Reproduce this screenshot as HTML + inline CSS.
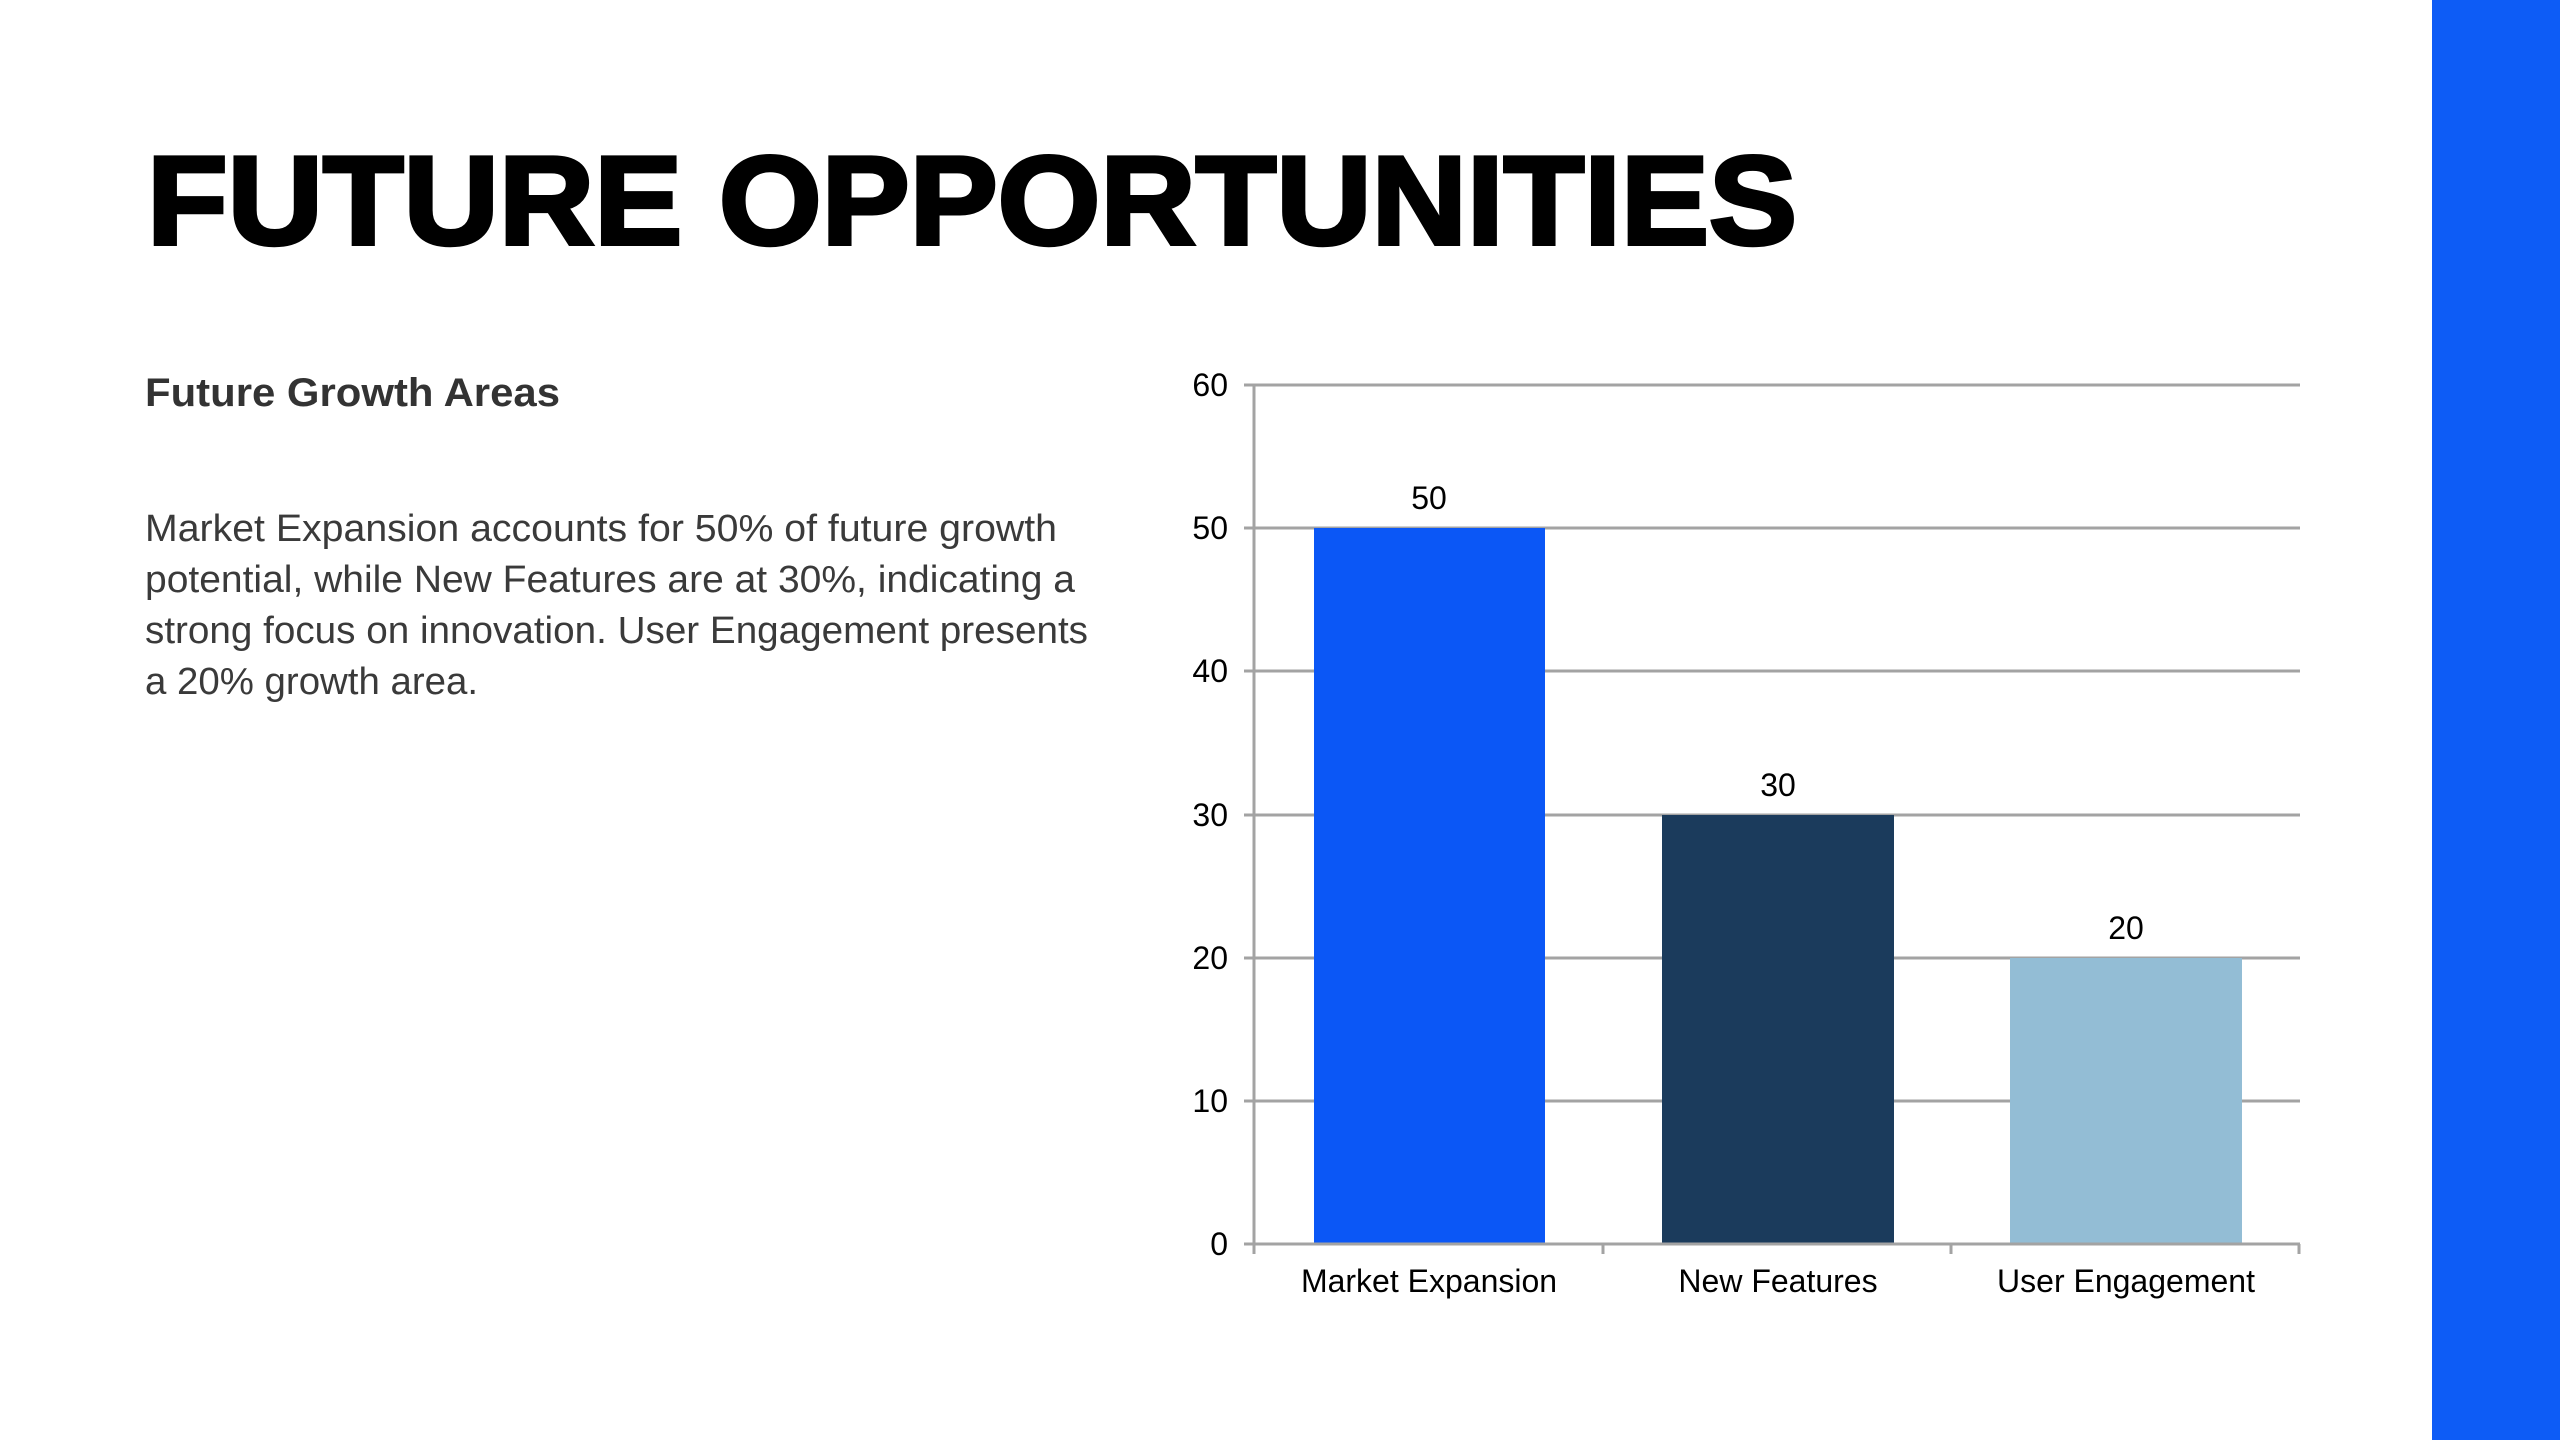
<!DOCTYPE html>
<html><head><meta charset="utf-8"><style>
html,body{margin:0;padding:0;background:#fff;}
svg{display:block;}
</style></head><body>
<svg width="2560" height="1440" viewBox="0 0 2560 1440" xmlns="http://www.w3.org/2000/svg">
<rect x="0" y="0" width="2560" height="1440" fill="#fff"/>
<rect x="2432" y="0" width="128" height="1440" fill="#0d5cf6"/>
<text x="147" y="244" font-family="Liberation Sans, sans-serif" font-weight="bold" font-size="126" textLength="1650" lengthAdjust="spacingAndGlyphs" fill="#000" stroke="#000" stroke-width="4">FUTURE OPPORTUNITIES</text>
<text x="145" y="406" font-family="Liberation Sans, sans-serif" font-weight="bold" font-size="40" textLength="415" lengthAdjust="spacingAndGlyphs" fill="#333">Future Growth Areas</text>
<g font-family="Liberation Sans, sans-serif" font-size="38" fill="#3a3a3a">
<text x="145" y="541" textLength="912" lengthAdjust="spacingAndGlyphs">Market Expansion accounts for 50% of future growth</text>
<text x="145" y="592" textLength="930" lengthAdjust="spacingAndGlyphs">potential, while New Features are at 30%, indicating a</text>
<text x="145" y="643" textLength="943" lengthAdjust="spacingAndGlyphs">strong focus on innovation. User Engagement presents</text>
<text x="145" y="694" textLength="333" lengthAdjust="spacingAndGlyphs">a 20% growth area.</text>
</g>
<g stroke="#a3a3a3" stroke-width="3">
<line x1="1244" y1="385" x2="2300" y2="385"/>
<line x1="1244" y1="528" x2="2300" y2="528"/>
<line x1="1244" y1="671" x2="2300" y2="671"/>
<line x1="1244" y1="815" x2="2300" y2="815"/>
<line x1="1244" y1="958" x2="2300" y2="958"/>
<line x1="1244" y1="1101" x2="2300" y2="1101"/>
</g>
<rect x="1314" y="528" width="231" height="716" fill="#0b57f6"/>
<rect x="1662" y="815" width="232" height="429" fill="#1b3b5c"/>
<rect x="2010" y="958" width="232" height="286" fill="#93bdd5"/>
<g stroke="#a3a3a3" stroke-width="3">
<line x1="1254" y1="385" x2="1254" y2="1254"/>
<line x1="1244" y1="1244" x2="2300" y2="1244"/>
<line x1="1603" y1="1244" x2="1603" y2="1254"/>
<line x1="1951" y1="1244" x2="1951" y2="1254"/>
<line x1="2299" y1="1244" x2="2299" y2="1254"/>
</g>
<g font-family="Liberation Sans, sans-serif" font-size="32" fill="#000" text-anchor="end">
<text x="1228" y="396">60</text>
<text x="1228" y="539">50</text>
<text x="1228" y="682">40</text>
<text x="1228" y="826">30</text>
<text x="1228" y="969">20</text>
<text x="1228" y="1112">10</text>
<text x="1228" y="1255">0</text>
</g>
<g font-family="Liberation Sans, sans-serif" font-size="32" fill="#000" text-anchor="middle">
<text x="1429" y="509">50</text>
<text x="1778" y="796">30</text>
<text x="2126" y="939">20</text>
<text x="1429" y="1292">Market Expansion</text>
<text x="1778" y="1292">New Features</text>
<text x="2126" y="1292">User Engagement</text>
</g>
</svg>
</body></html>
